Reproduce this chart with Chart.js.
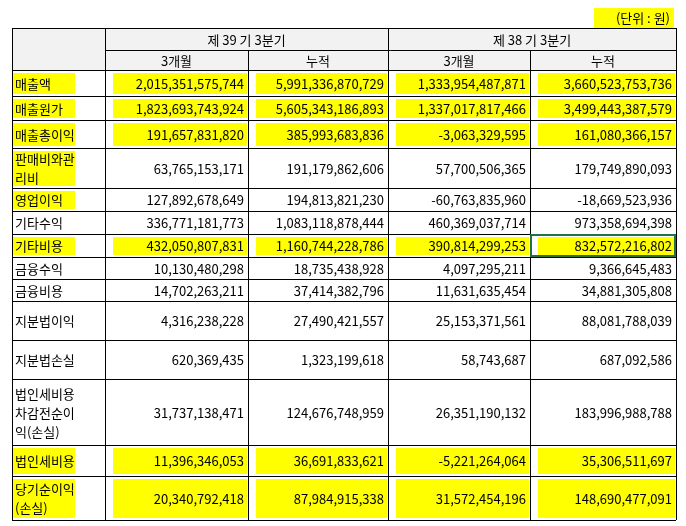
<!DOCTYPE html>
<html><head><meta charset="utf-8">
<script src="https://cdn.jsdelivr.net/npm/chart.js@4"></script>
<style>html,body{margin:0;padding:0;background:#fff}#wrap{width:686px;height:526px}</style>
</head><body><div id="wrap"><canvas id="tbl"></canvas></div>
<script>
// table contents
let rowLabels = ["매출액", "매출원가", "매출총이익", "판매비와관\n리비", "영업이익", "기타수익", "기타비용", "금융수익", "금융비용", "지분법이익", "지분법손실", "법인세비용\n차감전순이\n익(손실)", "법인세비용", "당기순이익\n(손실)"];
let q39_3m = [2015351575744, 1823693743924, 191657831820, 63765153171, 127892678649, 336771181773, 432050807831, 10130480298, 14702263211, 4316238228, 620369435, 31737138471, 11396346053, 20340792418];
let q39_cum = [5991336870729, 5605343186893, 385993683836, 191179862606, 194813821230, 1083118878444, 1160744228786, 18735438928, 37414382796, 27490421557, 1323199618, 124676748959, 36691833621, 87984915338];
let q38_3m = [1333954487871, 1337017817466, -3063329595, 57700506365, -60763835960, 460369037714, 390814299253, 4097295211, 11631635454, 25153371561, 58743687, 26351190132, -5221264064, 31572454196];
let q38_cum = [3660523753736, 3499443387579, 161080366157, 179749890093, -18669523936, 973358694398, 832572216802, 9366645483, 34881305808, 88081788039, 687092586, 183996988788, 35306511697, 148690477091];
let periods = ["제 39 기 3분기", "제 38 기 3분기"];
let subHeads = ["3개월", "누적"];
let highlightRows = [0, 1, 2, 6, 12, 13];   // whole row marked
let highlightLabelOnly = [3, 4];

// layout (grid lines)
const colX = [12, 105, 248, 388, 530, 676];
const headY = [28, 50, 70];
const rowY = [70, 96, 120, 148, 188, 211, 234, 257, 279, 301, 340, 379, 445, 476, 520];

const fmt = v => (v < 0 ? "-" : "") + Math.abs(v).toLocaleString("en-US");
const cols = [q39_3m, q39_cum, q38_3m, q38_cum];

const tablePlugin = {
  id: 'table',
  afterDraw(chart) {
    const c = chart.ctx, xs = chart.scales.x, ys = chart.scales.y;
    const X = v => xs.getPixelForValue(v), Y = v => ys.getPixelForValue(v);
    const font = '13px "Noto Sans CJK KR", sans-serif';
    c.save();
    // header backgrounds
    c.fillStyle = '#f2f2f2';
    c.fillRect(X(colX[0]), Y(headY[0]), X(colX[5]) - X(colX[0]), Y(headY[2]) - Y(headY[0]));
    // highlights
    c.fillStyle = '#ffff00';
    const mark = (x0, x1, r) => {
      const y0 = Y(rowY[r]) + 3, y1 = Y(rowY[r + 1]) - 2;
      c.fillRect(x0, y0, x1 - x0, y1 - y0);
    };
    highlightRows.forEach(r => {
      mark(X(colX[0]) + 1, X(colX[1]) - 30, r);
      for (let k = 1; k < 5; k++) mark(X(colX[k]) + 8, X(colX[k + 1]) - 1, r);
    });
    highlightLabelOnly.forEach(r => mark(X(colX[0]) + 1, X(colX[1]) - 30, r));
    // unit label
    c.fillRect(X(594), Y(8), 80, 20);
    c.font = font; c.fillStyle = '#000'; c.textBaseline = 'middle';
    c.textAlign = 'right'; c.fillText('(단위 : 원)', X(670), Y(18));
    // grid
    c.strokeStyle = '#000'; c.lineWidth = 1;
    const hline = (y, x0, x1) => { c.beginPath(); c.moveTo(X(x0), Math.round(Y(y)) + 0.5); c.lineTo(X(x1), Math.round(Y(y)) + 0.5); c.stroke(); };
    const vline = (x, y0, y1) => { c.beginPath(); c.moveTo(Math.round(X(x)) + 0.5, Y(y0)); c.lineTo(Math.round(X(x)) + 0.5, Y(y1)); c.stroke(); };
    hline(headY[0], colX[0], colX[5]);
    hline(headY[1], colX[1], colX[5]);
    rowY.forEach(y => hline(y, colX[0], colX[5]));
    vline(colX[0], headY[0], rowY[rowY.length - 1]);
    vline(colX[5], headY[0], rowY[rowY.length - 1]);
    vline(colX[1], headY[0], rowY[rowY.length - 1]);
    vline(colX[3], headY[0], rowY[rowY.length - 1]);
    vline(colX[2], headY[1], rowY[rowY.length - 1]);
    vline(colX[4], headY[1], rowY[rowY.length - 1]);
    // selected cell border
    c.strokeStyle = '#217346'; c.lineWidth = 2;
    c.strokeRect(X(colX[4]) + 1, Y(rowY[6]) + 1, X(colX[5]) - X(colX[4]) - 2, Y(rowY[7]) - Y(rowY[6]) - 2);
    // header text
    c.fillStyle = '#000'; c.textAlign = 'center';
    periods.forEach((p, i) => c.fillText(p, (X(colX[1 + 2 * i]) + X(colX[3 + 2 * i])) / 2, (Y(headY[0]) + Y(headY[1])) / 2 + 1));
    for (let k = 0; k < 4; k++) c.fillText(subHeads[k % 2], (X(colX[k + 1]) + X(colX[k + 2])) / 2, (Y(headY[1]) + Y(headY[2])) / 2 + 1);
    // body text
    rowLabels.forEach((lab, r) => {
      const yc = (Y(rowY[r]) + Y(rowY[r + 1])) / 2 + 1;
      const lines = lab.split('\n');
      c.textAlign = 'left';
      lines.forEach((ln, i) => c.fillText(ln, X(colX[0]) + 3, yc + (i - (lines.length - 1) / 2) * 19));
      c.textAlign = 'right';
      cols.forEach((arr, k) => c.fillText(fmt(arr[r]), X(colX[k + 2]) - 4, yc));
    });
    c.restore();
  }
};

new Chart(document.getElementById('tbl'), {
  type: 'scatter',
  data: { datasets: [{ data: [] }] },
  options: {
    responsive: true, maintainAspectRatio: false, animation: false,
    layout: { padding: 0 },
    plugins: { legend: { display: false }, tooltip: { enabled: false } },
    scales: {
      x: { type: 'linear', min: 0, max: 686, display: false },
      y: { type: 'linear', min: 0, max: 526, reverse: true, display: false }
    }
  },
  plugins: [tablePlugin]
});
</script></body></html>
